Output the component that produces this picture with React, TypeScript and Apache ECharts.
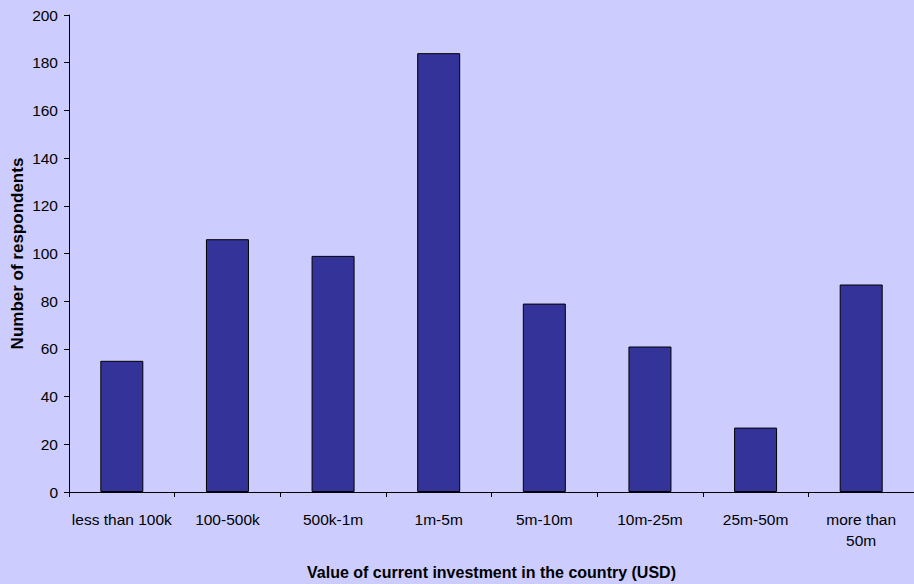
import React, { useEffect, useRef } from "react";
import * as echarts from "echarts";

const categories = [
  "less than 100k",
  "100-500k",
  "500k-1m",
  "1m-5m",
  "5m-10m",
  "10m-25m",
  "25m-50m",
  "more than 50m",
];
const respondents = [55, 106, 99, 184, 79, 61, 27, 87];
const yTitle = "Number of respondents";
const xTitle = "Value of current investment in the country (USD)";

const FONT = "'Liberation Sans', Arial, sans-serif";

export default function App() {
  const ref = useRef<HTMLDivElement>(null);
  useEffect(() => {
    if (!ref.current) return;
    const chart = echarts.init(ref.current, undefined, { renderer: "svg" });
    chart.setOption({
      animation: false,
      backgroundColor: "#CCCCFF",
      textStyle: { fontFamily: FONT, color: "#000" },
      grid: {
        left: 69,
        right: 0,
        top: 15,
        bottom: 92,
        containLabel: false,
        outerBoundsMode: "none",
      },
      xAxis: {
        type: "category",
        data: categories,
        name: xTitle,
        nameLocation: "middle",
        nameGap: 72,
        nameMoveOverlap: false,
        nameTextStyle: { fontFamily: FONT, fontSize: 16, fontWeight: "bold", color: "#000" },
        axisLine: { lineStyle: { color: "#000", width: 1 } },
        axisTick: { show: true, length: 5, alignWithLabel: false, lineStyle: { color: "#000" } },
        axisLabel: {
          fontFamily: FONT,
          fontSize: 15.5,
          color: "#000",
          margin: 17,
          lineHeight: 21,
          interval: 0,
          formatter: (v: string) => v.replace("more than ", "more than\n"),
        },
        splitLine: { show: false },
      },
      yAxis: {
        type: "value",
        min: 0,
        max: 200,
        interval: 20,
        name: yTitle,
        nameLocation: "middle",
        nameGap: 43,
        nameMoveOverlap: false,
        nameTextStyle: { fontFamily: FONT, fontSize: 17, fontWeight: "bold", color: "#000" },
        axisLine: { show: true, lineStyle: { color: "#000", width: 1 } },
        axisTick: { show: true, length: 5, lineStyle: { color: "#000" } },
        axisLabel: { fontFamily: FONT, fontSize: 15.5, color: "#000", margin: 11 },
        splitLine: { show: false },
      },
      series: [
        {
          type: "bar",
          data: respondents,
          barWidth: 43,
          itemStyle: { color: "#333399", borderColor: "#000", borderWidth: 1 },
        },
      ],
    });
    return () => chart.dispose();
  }, []);
  return (
    <div
      ref={ref}
      style={{ position: "fixed", left: 0, top: 0, width: 914, height: 584, background: "#CCCCFF" }}
    />
  );
}
